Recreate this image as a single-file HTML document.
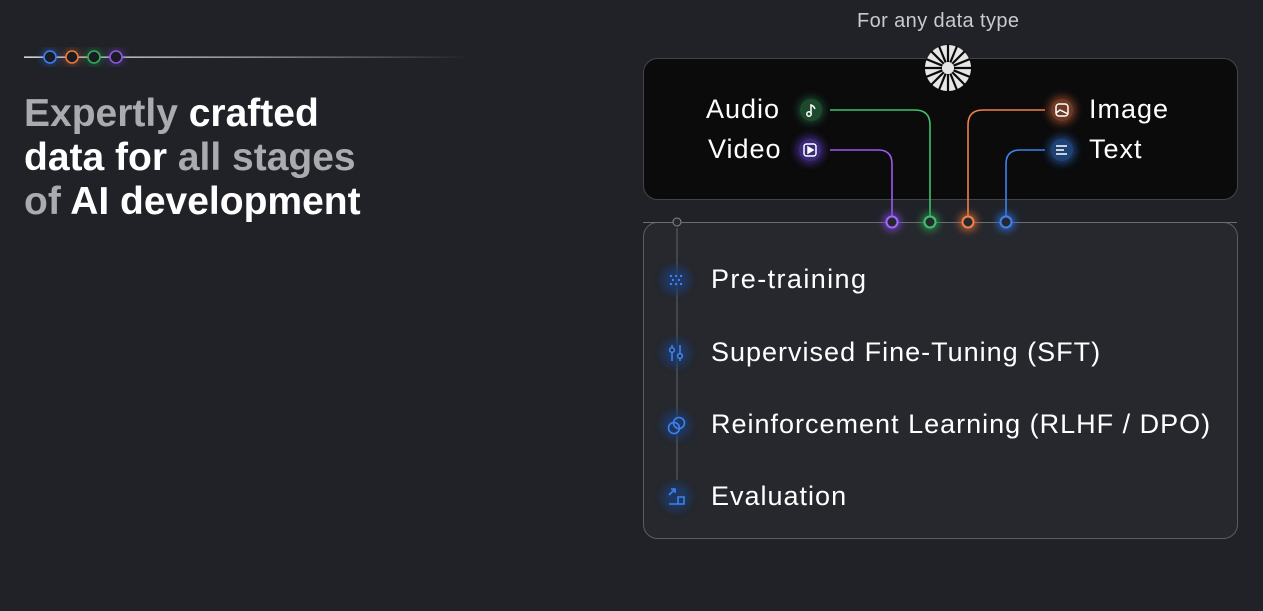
<!DOCTYPE html><html><head><style>
body{margin:0;width:1263px;height:611px;background:#202228;overflow:hidden;font-family:"Liberation Sans",sans-serif;position:relative}
.t{position:absolute;left:24px;top:92px;font-size:39px;font-weight:bold;line-height:44px;color:#fff;letter-spacing:0}
.g{color:#a9abae}
.l{position:absolute;color:#fff;font-size:27px;letter-spacing:1px;white-space:nowrap}
</style></head><body>
<svg width="1263" height="611" style="position:absolute;left:0;top:0">
<defs><linearGradient id="hl" x1="0" x2="1"><stop offset="0" stop-color="#fff"/><stop offset="0.5" stop-color="#aaa"/><stop offset="1" stop-color="#202228"/></linearGradient>
<filter id="gl"><feGaussianBlur stdDeviation="4"/></filter></defs>
<rect x="24" y="56.5" width="446" height="1.3" fill="url(#hl)"/>
<g filter="url(#gl)" opacity="0.6"><circle cx="50" cy="57" r="8" fill="#2e5fc0"/><circle cx="72" cy="57" r="8" fill="#b05a30"/><circle cx="94" cy="57" r="8" fill="#238a45"/><circle cx="116" cy="57" r="8" fill="#6a3db0"/></g>
<g fill="#1a1c22" stroke-width="1.6">
<circle cx="50" cy="57" r="6" stroke="#3b7ff0"/><circle cx="72" cy="57" r="6" stroke="#e8793f"/><circle cx="94" cy="57" r="6" stroke="#2fae5a"/><circle cx="116" cy="57" r="6" stroke="#8f55e0"/></g>
<rect x="643.5" y="58.5" width="594" height="141" rx="14" fill="#0b0b0c" stroke="#444" />
<rect x="643.5" y="222.5" width="594" height="316" rx="14" fill="#26282d" stroke="#5a5c60"/>
<line x1="643" y1="222.5" x2="1237" y2="222.5" stroke="#6a6c70"/>
<line x1="677" y1="228" x2="677" y2="480" stroke="#666" stroke-width="1"/>
<circle cx="677" cy="222" r="4" fill="#26282d" stroke="#888"/>
<g fill="none" stroke-width="1.6">
<path d="M830 110 H915 Q930 110 930 125 V216" stroke="#3ec36b"/>
<path d="M830 150 H878 Q892 150 892 164 V216" stroke="#9a5cf0"/>
<path d="M1045 110 H983 Q968 110 968 125 V216" stroke="#f0824a"/>
<path d="M1045 150 H1020 Q1006 150 1006 164 V216" stroke="#3d82f0"/>
</g>
<g filter="url(#gl)" opacity="0.8"><circle cx="892" cy="222" r="9" fill="#7b45d0"/><circle cx="930" cy="222" r="9" fill="#2a9a50"/><circle cx="968" cy="222" r="9" fill="#d06a35"/><circle cx="1006" cy="222" r="9" fill="#2e6ed8"/>
<circle cx="811" cy="110" r="13" fill="#1f5a34"/><circle cx="810" cy="150" r="14" fill="#4a2f90"/><circle cx="1062" cy="110" r="14" fill="#8a4428"/><circle cx="1062" cy="150" r="14" fill="#24508f"/>
<circle cx="676" cy="280" r="14" fill="#1d3a70"/><circle cx="676" cy="353" r="14" fill="#1d3a70"/><circle cx="676" cy="425" r="14" fill="#1d3a70"/><circle cx="676" cy="497" r="14" fill="#1d3a70"/></g>
<g fill="#26282d" stroke-width="2"><circle cx="892" cy="222" r="5.5" stroke="#a066ff"/><circle cx="930" cy="222" r="5.5" stroke="#3ec36b"/><circle cx="968" cy="222" r="5.5" stroke="#f0824a"/><circle cx="1006" cy="222" r="5.5" stroke="#3d82f0"/></g>
<circle cx="811" cy="110" r="11" fill="#1d4a2c"/><circle cx="810" cy="150" r="11" fill="#3a2a78"/><circle cx="1062" cy="110" r="11" fill="#6e3a25"/><circle cx="1062" cy="150" r="11" fill="#1f4275"/>
<g stroke="#fff" fill="none" stroke-width="1.5">
<circle cx="809" cy="114" r="2.2"/><path d="M811 114 V105 Q814 106 815 109"/>
<rect x="804" y="144" width="12" height="12" rx="2.5"/><path d="M808 147 L813 150 L808 153Z" fill="#fff"/>
<rect x="1056" y="104" width="12" height="12" rx="3"/><path d="M1056 113 L1060 110 L1068 114"/>
<path d="M1056 146 H1067 M1056 150 H1064 M1056 154 H1067"/></g>
<g stroke="#3d82f0" fill="none" stroke-width="1.6">
<g fill="#3d82f0" stroke="none"><circle cx="671" cy="276" r="1.2"/><circle cx="676" cy="276" r="1.2"/><circle cx="681" cy="276" r="1.2"/><circle cx="673" cy="280" r="1.2"/><circle cx="679" cy="280" r="1.2"/><circle cx="671" cy="284" r="1.2"/><circle cx="676" cy="284" r="1.2"/><circle cx="681" cy="284" r="1.2"/></g>
<path d="M672 345 V361 M680 345 V361"/><circle cx="672" cy="350" r="2.3" fill="#26282d"/><circle cx="680" cy="356" r="2.3" fill="#26282d"/>
<circle cx="674" cy="428" r="5.5"/><circle cx="679" cy="423" r="5.5"/>
<path d="M669 495 L675 489 M671 489 H675 V493 M669 504 H684 V497 H678 V504"/></g>
<g transform="translate(948,68)"><circle r="23" fill="#e6e6e6"/><g stroke="#0b0b0c" stroke-width="2.2">
<line x1="0" y1="-6" x2="0" y2="-24"/><line x1="0" y1="6" x2="0" y2="24"/><line x1="-6" y1="0" x2="-24" y2="0"/><line x1="6" y1="0" x2="24" y2="0"/>
<line x1="4" y1="4" x2="17" y2="17"/><line x1="-4" y1="-4" x2="-17" y2="-17"/><line x1="4" y1="-4" x2="17" y2="-17"/><line x1="-4" y1="4" x2="-17" y2="17"/>
<line x1="2.3" y1="5.5" x2="9" y2="22"/><line x1="-2.3" y1="-5.5" x2="-9" y2="-22"/><line x1="5.5" y1="2.3" x2="22" y2="9"/><line x1="-5.5" y1="-2.3" x2="-22" y2="-9"/>
<line x1="-2.3" y1="5.5" x2="-9" y2="22"/><line x1="2.3" y1="-5.5" x2="9" y2="-22"/><line x1="-5.5" y1="2.3" x2="-22" y2="9"/><line x1="5.5" y1="-2.3" x2="22" y2="-9"/></g><circle r="6" fill="#e6e6e6"/></g>
</svg>
<div class="t"><span class="g">Expertly</span> crafted<br>data for <span class="g">all stages</span><br><span class="g">of</span> AI development</div>
<div class="l" style="left:857px;top:10px;font-size:20px;letter-spacing:0.4px;color:#c9cacc">For any data type</div>
<div class="l" style="left:706px;top:94px">Audio</div>
<div class="l" style="left:708px;top:134px">Video</div>
<div class="l" style="left:1089px;top:94px">Image</div>
<div class="l" style="left:1089px;top:134px">Text</div>
<div class="l" style="left:711px;top:264px;letter-spacing:1.4px">Pre-training</div>
<div class="l" style="left:711px;top:337px">Supervised Fine-Tuning (SFT)</div>
<div class="l" style="left:711px;top:409px">Reinforcement Learning (RLHF / DPO)</div>
<div class="l" style="left:711px;top:481px">Evaluation</div>
</body></html>
